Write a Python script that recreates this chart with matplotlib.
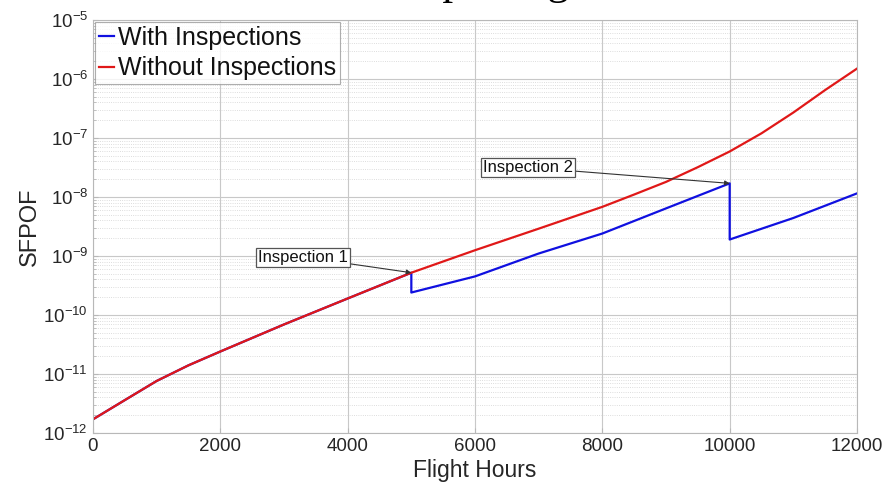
import matplotlib
matplotlib.use("Agg")
import matplotlib.pyplot as plt

# values
hours_without = [0, 500, 1000, 1500, 2000, 3000, 4000, 5000, 6000, 7000, 8000, 8500, 9000, 9500,
                 10000, 10500, 11000, 11500, 12000]
sfpof_without = [1.7e-12, 3.6e-12, 7.6e-12, 1.4e-11, 2.4e-11, 6.9e-11, 1.9e-10, 5.2e-10, 1.25e-9,
                 2.9e-9, 6.8e-9, 1.1e-8, 1.8e-8, 3.2e-8, 5.9e-8, 1.2e-7, 2.7e-7, 6.5e-7, 1.5e-6]

hours_with = [0, 500, 1000, 1500, 2000, 3000, 4000, 5000, 5000, 6000, 7000, 8000, 9000, 10000, 10000,
              11000, 12000]
sfpof_with = [1.7e-12, 3.6e-12, 7.6e-12, 1.4e-11, 2.4e-11, 6.9e-11, 1.9e-10, 5.2e-10, 2.4e-10, 4.5e-10,
              1.1e-9, 2.4e-9, 6.4e-9, 1.7e-8, 1.9e-9, 4.4e-9, 1.15e-8]

inspections = ["Inspection 1", "Inspection 2"]
inspection_hours = [5000, 10000]
inspection_sfpof = [5.2e-10, 1.7e-8]

plt.rcParams['font.family'] = ['Liberation Sans', 'DejaVu Sans']

fig = plt.figure(figsize=(8.82, 4.87), dpi=100)
ax = fig.add_axes([0.1054, 0.111, 0.8663, 0.848])

ax.plot(hours_with, sfpof_with, color='#1010e0', lw=1.6, label='With Inspections')
ax.plot(hours_without, sfpof_without, color='#e01818', lw=1.6, label='Without Inspections')

ax.set_yscale('log')
ax.set_xlim(0, 12000)
ax.set_ylim(1e-12, 1e-5)
ax.set_xticks(range(0, 12001, 2000))

ax.grid(True, which='major', color='#c8c8c8', lw=0.8, ls='-')
ax.grid(True, which='minor', axis='y', color='#d2d2d2', lw=0.6, ls=':')
for s in ax.spines.values():
    s.set_color('#b8b8b8')
ax.tick_params(which='both', direction='in', color='#b8b8b8', labelsize=13.5, labelcolor='#262626')
ax.tick_params(which='minor', length=2)

ax.set_xlabel('Flight Hours', fontsize=16.5, color='#262626', labelpad=3)
ax.set_ylabel('SFPOF', fontsize=17, color='#262626', labelpad=2)

# text boxes with arrows (positions in axes fraction)
text_pos = [(0.275, 0.426), (0.569, 0.643)]
for name, hx, hy, tp in zip(inspections, inspection_hours, inspection_sfpof, text_pos):
    ax.annotate(name, xy=(hx, hy), xytext=tp, textcoords='axes fraction',
                fontsize=12, ha='center', va='center', color='#111111',
                bbox=dict(boxstyle='square,pad=0.12', fc='white', ec='#555555', lw=0.9),
                arrowprops=dict(arrowstyle='-|>', color='#333333', lw=0.8,
                                mutation_scale=7, shrinkA=0, shrinkB=0))

leg = ax.legend(loc='upper left', fontsize=18, frameon=True, fancybox=False,
                handlelength=0.6, handletextpad=0.15, borderaxespad=0.1,
                borderpad=0.15, labelspacing=0.25)
leg.get_frame().set_edgecolor('#999999')
leg.get_frame().set_linewidth(0.8)
for t in leg.get_texts():
    t.set_color('#111111')

# clipped title from the original picture
fig.text(0.443, 1.013, 'Inspecting', family='Liberation Serif', fontsize=31,
         ha='left', va='baseline', color='black')

fig.savefig('out.png', dpi=100)
